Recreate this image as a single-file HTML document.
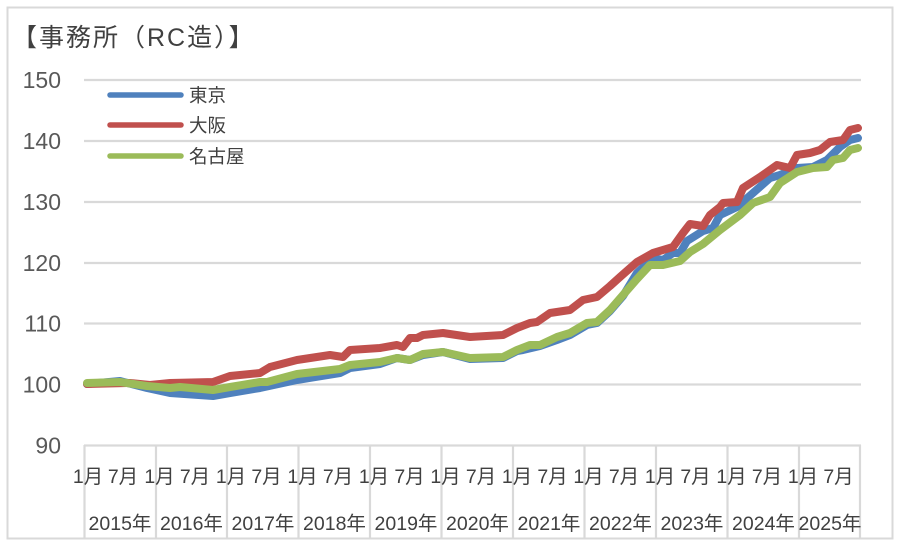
<!DOCTYPE html>
<html><head><meta charset="utf-8"><style>
html,body{margin:0;padding:0;background:#fff;}
svg{display:block;}
text{font-family:"Liberation Sans","Noto Sans CJK JP",sans-serif;}
</style></head><body>
<svg width="900" height="548" viewBox="0 0 900 548" xmlns="http://www.w3.org/2000/svg">
<rect x="0" y="0" width="900" height="548" fill="#fff"/>
<rect x="7.5" y="7.5" width="885" height="531" fill="#fff" stroke="#d9d9d9" stroke-width="2"/>
<text x="12" y="46" font-size="25" letter-spacing="2" fill="#404040">【事務所（RC造）】</text>
<g stroke="#d9d9d9" stroke-width="2.2">
<line x1="84" y1="80" x2="861" y2="80"/>
<line x1="84" y1="141" x2="861" y2="141"/>
<line x1="84" y1="202" x2="861" y2="202"/>
<line x1="84" y1="263" x2="861" y2="263"/>
<line x1="84" y1="323.5" x2="861" y2="323.5"/>
<line x1="84" y1="384.5" x2="861" y2="384.5"/>
<line x1="84" y1="445.5" x2="861" y2="445.5"/>
<line x1="84.5" y1="445" x2="84.5" y2="538"/>
<line x1="156" y1="445" x2="156" y2="538"/>
<line x1="227" y1="445" x2="227" y2="538"/>
<line x1="298.5" y1="445" x2="298.5" y2="538"/>
<line x1="370" y1="445" x2="370" y2="538"/>
<line x1="441.5" y1="445" x2="441.5" y2="538"/>
<line x1="513" y1="445" x2="513" y2="538"/>
<line x1="584.5" y1="445" x2="584.5" y2="538"/>
<line x1="656" y1="445" x2="656" y2="538"/>
<line x1="727.5" y1="445" x2="727.5" y2="538"/>
<line x1="799" y1="445" x2="799" y2="538"/>
<line x1="860" y1="445" x2="860" y2="538"/>
</g>
<g font-size="23" fill="#595959" text-anchor="end">
<text x="61" y="88">150</text>
<text x="61" y="149">140</text>
<text x="61" y="210">130</text>
<text x="61" y="271">120</text>
<text x="61" y="331.5">110</text>
<text x="61" y="392.5">100</text>
<text x="61" y="453.5">90</text>
</g>
<g font-size="19.5" fill="#404040" text-anchor="middle">
<text x="88" y="483">1月</text><text x="123" y="483">7月</text>
<text x="159.5" y="483">1月</text><text x="195" y="483">7月</text>
<text x="231" y="483">1月</text><text x="266.5" y="483">7月</text>
<text x="302.5" y="483">1月</text><text x="338" y="483">7月</text>
<text x="374" y="483">1月</text><text x="409.5" y="483">7月</text>
<text x="445.5" y="483">1月</text><text x="481" y="483">7月</text>
<text x="517" y="483">1月</text><text x="552.5" y="483">7月</text>
<text x="588.5" y="483">1月</text><text x="624" y="483">7月</text>
<text x="660" y="483">1月</text><text x="695.5" y="483">7月</text>
<text x="731.5" y="483">1月</text><text x="767" y="483">7月</text>
<text x="803" y="483">1月</text><text x="838.5" y="483">7月</text>
<text x="120" y="530">2015年</text>
<text x="191.5" y="530">2016年</text>
<text x="263" y="530">2017年</text>
<text x="334.5" y="530">2018年</text>
<text x="406" y="530">2019年</text>
<text x="477.5" y="530">2020年</text>
<text x="549" y="530">2021年</text>
<text x="620.5" y="530">2022年</text>
<text x="692" y="530">2023年</text>
<text x="763.5" y="530">2024年</text>
<text x="830" y="530">2025年</text>
</g>
<g fill="none" stroke-width="8" stroke-linejoin="round" stroke-linecap="round">
<polyline stroke="#4F81BD" points="87,384 120,381 147,388 170,393 213,396 230,393 260,388 297,380 340,373 350,368 380,364 397,358 410,360 423,355 443,352 470,359 503,358 517,351 523,350 540,346 557,340 570,335 587,325 597,323 610,311 623,296 637,273 653,258 663,260 673,253 680,253 687,241 703,231 713,228 720,215 737,207 753,193 770,178 780,175 797,168 813,167 827,160 840,147 850,140 858,138"/>
<polyline stroke="#C0504D" points="87,384 130,383 150,385 170,383 213,382 230,376 260,373 270,367 297,360 330,355 343,357 350,350 380,348 397,345 403,347 410,338 417,338 423,335 443,333 470,337 503,335 517,328 530,323 537,322 550,313 570,310 583,300 597,297 610,286 620,277 637,262 653,253 673,247 683,233 690,224 703,226 710,215 720,207 723,203 737,202 743,188 760,177 777,165 790,168 797,155 810,153 820,150 830,142 843,140 850,130 858,128"/>
<polyline stroke="#9BBB59" points="87,383 120,382 147,386 170,388 180,387 213,390 230,387 260,382 267,382 297,374 340,369 350,365 380,362 397,358 410,360 423,354 443,352 470,358 503,357 517,350 530,345 540,345 557,337 570,333 587,323 597,322 610,310 623,295 637,279 650,265 663,265 680,261 690,252 703,244 720,230 740,215 753,203 770,197 780,183 797,172 813,168 827,167 833,160 843,158 850,150 858,148"/>
</g>
<g stroke-width="5.5" stroke-linecap="round">
<line x1="110" y1="95" x2="181" y2="95" stroke="#4F81BD"/>
<line x1="110" y1="125" x2="181" y2="125" stroke="#C0504D"/>
<line x1="110" y1="156" x2="181" y2="156" stroke="#9BBB59"/>
</g>
<g font-size="18.5" fill="#404040">
<text x="189" y="102">東京</text>
<text x="189" y="132">大阪</text>
<text x="189" y="163">名古屋</text>
</g>
</svg>
</body></html>
